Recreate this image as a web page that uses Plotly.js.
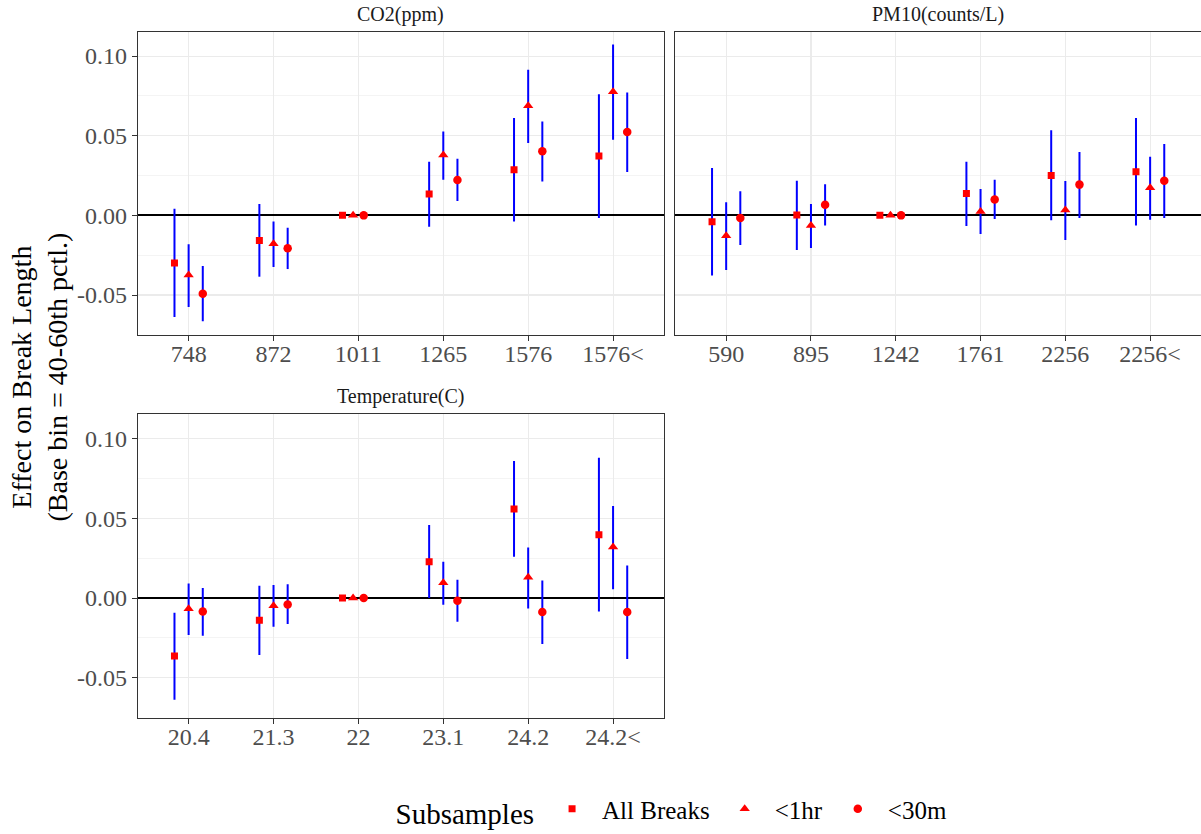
<!DOCTYPE html>
<html>
<head>
<meta charset="utf-8">
<script src="https://cdn.plot.ly/plotly-3.0.1.min.js"></script>
<style>html,body{margin:0;padding:0;background:#fff;}#chart{width:1201px;height:834px;}</style>
</head>
<body>
<div id="chart"></div>
<script>
// ---------- data ----------
const seriesNames = ['All Breaks', '<1hr', '<30m'];
const yTickVals = [-0.05, 0, 0.05, 0.10];
const yTickText = ['-0.05', '0.00', '0.05', '0.10'];

const co2Labels = ['748', '872', '1011', '1265', '1576', '1576<'];
const co2All   = [-0.0299, -0.0157, 0, 0.0134, 0.0287, 0.0372];
const co2AllLo = [-0.0638, -0.0385, 0, -0.0071, -0.0038, -0.0017];
const co2AllHi = [0.0042, 0.0071, 0, 0.0337, 0.0611, 0.0760];
const co2H1    = [-0.0375, -0.0178, 0, 0.0379, 0.0688, 0.0776];
const co2H1Lo  = [-0.0575, -0.0324, 0, 0.0224, 0.0454, 0.0475];
const co2H1Hi  = [-0.0182, -0.0038, 0, 0.0527, 0.0914, 0.1073];
const co2M30   = [-0.0492, -0.0207, 0, 0.0222, 0.0402, 0.0523];
const co2M30Lo = [-0.0665, -0.0337, 0, 0.0090, 0.0213, 0.0272];
const co2M30Hi = [-0.0318, -0.0077, 0, 0.0356, 0.0590, 0.0772];

const pmLabels = ['590', '895', '1242', '1761', '2256', '2256<'];
const pmAll    = [-0.0040, 0.0002, 0, 0.0138, 0.0251, 0.0274];
const pmAllLo  = [-0.0377, -0.0218, 0, -0.0067, -0.0031, -0.0063];
const pmAllHi  = [0.0297, 0.0218, 0, 0.0337, 0.0534, 0.0611];
const pmH1     = [-0.0128, -0.0063, 0, 0.0025, 0.0033, 0.0174];
const pmH1Lo   = [-0.0343, -0.0205, 0, -0.0117, -0.0155, -0.0027];
const pmH1Hi   = [0.0082, 0.0071, 0, 0.0165, 0.0216, 0.0368];
const pmM30    = [-0.0017, 0.0067, 0, 0.0100, 0.0193, 0.0218];
const pmM30Lo  = [-0.0186, -0.0063, 0, -0.0023, -0.0017, -0.0017];
const pmM30Hi  = [0.0151, 0.0195, 0, 0.0224, 0.0398, 0.0448];

const tempLabels = ['20.4', '21.3', '22', '23.1', '24.2', '24.2<'];
const tempAll    = [-0.0364, -0.0140, 0, 0.0228, 0.0559, 0.0398];
const tempAllLo  = [-0.0638, -0.0358, 0, 0.0000, 0.0259, -0.0084];
const tempAllHi  = [-0.0092, 0.0077, 0, 0.0458, 0.0860, 0.0881];
const tempH1     = [-0.0067, -0.0048, 0, 0.0096, 0.0130, 0.0320];
const tempH1Lo   = [-0.0232, -0.0180, 0, -0.0042, -0.0065, 0.0056];
const tempH1Hi   = [0.0092, 0.0082, 0, 0.0228, 0.0318, 0.0578];
const tempM30    = [-0.0084, -0.0040, 0, -0.0017, -0.0088, -0.0088];
const tempM30Lo  = [-0.0236, -0.0163, 0, -0.0149, -0.0289, -0.0383];
const tempM30Hi  = [0.0063, 0.0086, 0, 0.0115, 0.0111, 0.0205];

const panelTitles = ['CO2(ppm)', 'PM10(counts/L)', 'Temperature(C)'];
const baseBin = 2; // index of the reference (base) bin

// ---------- build ----------
const FONT = "'Liberation Serif', 'Times New Roman', serif";
const symbols = ['square', 'triangle-up', 'circle'];
const sizes = [7, 9, 8.5];
const dodge = [-1/6, 0, 1/6];
const dodgeBase = [-0.1875, -0.0625, 0.0625];

const panels = [
  {labels: co2Labels, xa: 'x', ya: 'y', s: [[co2All, co2AllLo, co2AllHi], [co2H1, co2H1Lo, co2H1Hi], [co2M30, co2M30Lo, co2M30Hi]]},
  {labels: pmLabels, xa: 'x2', ya: 'y2', s: [[pmAll, pmAllLo, pmAllHi], [pmH1, pmH1Lo, pmH1Hi], [pmM30, pmM30Lo, pmM30Hi]]},
  {labels: tempLabels, xa: 'x3', ya: 'y3', s: [[tempAll, tempAllLo, tempAllHi], [tempH1, tempH1Lo, tempH1Hi], [tempM30, tempM30Lo, tempM30Hi]]}
];

const traces = [];
panels.forEach((p, pi) => {
  p.s.forEach((ser, si) => {
    const [v, lo, hi] = ser;
    traces.push({
      type: 'scatter', mode: 'markers',
      x: v.map((_, i) => i + 1 + (i === baseBin ? dodgeBase[si] : dodge[si])),
      y: v,
      xaxis: p.xa, yaxis: p.ya,
      name: seriesNames[si], legendgroup: seriesNames[si], showlegend: pi === 0,
      marker: {symbol: symbols[si], size: sizes[si], color: '#FF0000'},
      error_y: {type: 'data', symmetric: false,
        array: v.map((d, i) => hi[i] - d), arrayminus: v.map((d, i) => d - lo[i]),
        color: '#0000FF', thickness: 2, width: 0},
      hoverinfo: 'x+y'
    });
  });
});

const W = 1201, H = 834;
const colL = [137.7 / W, 664 / W], colR = [675.3 / W, 1];
const rowT = [1 - 335 / H, 1 - 31.7 / H], rowB = [1 - 717.7 / H, 1 - 414.4 / H];
const yRange = [-0.0751, 0.1153];

function xAxis(domain, anchor, labels) {
  return {domain, anchor, range: [0.4, 6.6], tickmode: 'array', tickvals: labels.map((_, i) => i + 1), ticktext: labels,
    showgrid: true, gridcolor: '#EBEBEB', gridwidth: 1.1, zeroline: false,
    showline: true, mirror: true, linecolor: '#333333', linewidth: 1,
    ticks: 'outside', ticklen: 5, tickwidth: 1, tickcolor: '#333333', ticklabelstandoff: -8,
    tickfont: {family: FONT, size: 24, color: '#4D4D4D'}, automargin: false, fixedrange: true};
}
function yAxis(domain, anchor, labels) {
  return {domain, anchor, range: yRange, tickmode: 'array', tickvals: yTickVals, ticktext: yTickText,
    showticklabels: labels, ticks: labels ? 'outside' : '', ticklen: 5, tickwidth: 1, tickcolor: '#333333',
    showgrid: true, gridcolor: '#EBEBEB', gridwidth: 1.1,
    minor: {tickvals: [-0.075, -0.025, 0.025, 0.075], showgrid: true, gridcolor: '#F0F0F0', gridwidth: 0.7, ticks: ''},
    zeroline: true, zerolinecolor: '#000000', zerolinewidth: 1.8,
    showline: true, mirror: true, linecolor: '#333333', linewidth: 1,
    tickfont: {family: FONT, size: 24, color: '#4D4D4D'}, automargin: false, fixedrange: true};
}

const layout = {
  width: W, height: H,
  margin: {l: 0, r: 0, t: 0, b: 0},
  paper_bgcolor: '#FFFFFF', plot_bgcolor: '#FFFFFF',
  font: {family: FONT, color: '#000000'},
  xaxis: xAxis(colL, 'y', co2Labels),
  yaxis: yAxis(rowT, 'x', true),
  xaxis2: xAxis(colR, 'y2', pmLabels),
  yaxis2: yAxis(rowT, 'x2', false),
  xaxis3: xAxis(colL, 'y3', tempLabels),
  yaxis3: yAxis(rowB, 'x3', true),
  showlegend: true,
  legend: {orientation: 'h', x: 673 / W, xanchor: 'center', y: 0, yanchor: 'bottom',
    title: {text: 'Subsamples', side: 'left', font: {family: FONT, size: 29, color: '#000000'}},
    font: {family: FONT, size: 25, color: '#000000'}, itemwidth: 50, bgcolor: 'rgba(0,0,0,0)'},
  annotations: [
    {text: panelTitles[0], xref: 'paper', yref: 'paper', x: (colL[0] + colL[1]) / 2, y: 1 - 14.5 / H, xanchor: 'center', yanchor: 'middle', showarrow: false, font: {family: FONT, size: 20, color: '#1A1A1A'}},
    {text: panelTitles[1], xref: 'paper', yref: 'paper', x: (colR[0] + colR[1]) / 2, y: 1 - 14.5 / H, xanchor: 'center', yanchor: 'middle', showarrow: false, font: {family: FONT, size: 20, color: '#1A1A1A'}},
    {text: panelTitles[2], xref: 'paper', yref: 'paper', x: (colL[0] + colL[1]) / 2, y: 1 - 396.5 / H, xanchor: 'center', yanchor: 'middle', showarrow: false, font: {family: FONT, size: 20, color: '#1A1A1A'}},
    {text: 'Effect on Break Length<br>(Base bin = 40-60th pctl.)', xref: 'paper', yref: 'paper', x: 38.5 / W, y: 1 - 377 / H, xanchor: 'center', yanchor: 'middle', textangle: -90, showarrow: false, font: {family: FONT, size: 28, color: '#000000'}}
  ]
};

Plotly.newPlot('chart', traces, layout, {displayModeBar: false, staticPlot: true});
</script>
</body>
</html>
